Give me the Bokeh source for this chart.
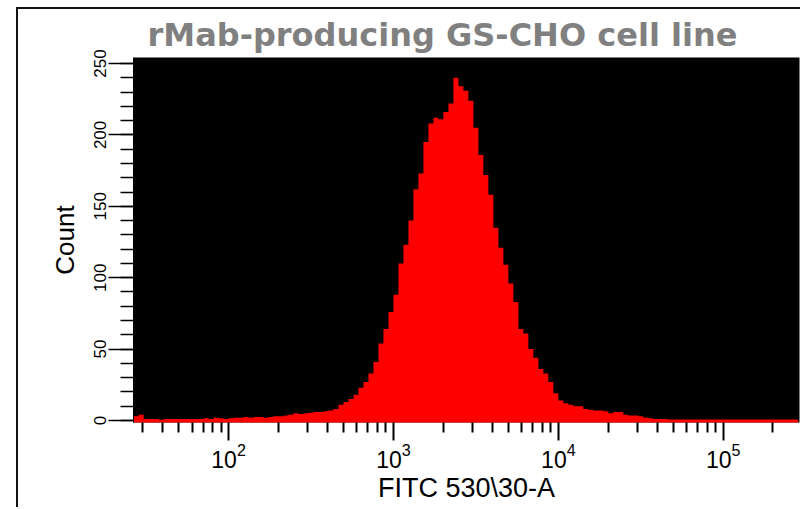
import numpy as np
from bokeh.plotting import figure
from bokeh.models import FixedTicker, Range1d
from bokeh.embed import file_html
from bokeh.resources import INLINE

# ---- data ----
title_text = "rMab-producing GS-CHO cell line"
x_title = "FITC 530\\30-A"
y_title = "Count"

# histogram bins: 1/33-decade log bins starting at 10**1.424
log_start = 1.424
bins_per_decade = 33
counts = [
    3, 4, 1, 1, 1, 0.5, 1, 1, 1, 1,
    1, 1, 1, 1, 1.5, 1, 2, 1.5, 1, 1.5,
    2, 2, 2.5, 2, 2.5, 2.5, 2, 2.5, 3, 3,
    3.5, 4, 5, 4.5, 5, 5.5, 6, 6, 6.5, 7,
    8, 11, 13, 15, 18, 23, 27, 33, 41, 54,
    64, 76, 88, 110, 123, 140, 162, 173, 195, 208,
    212, 211, 216, 222, 240, 234, 231, 224, 205, 186,
    172, 158, 135, 121, 109, 96, 83, 64, 61, 50,
    44, 36, 33, 27, 19, 14, 12, 11, 10, 10,
    8, 7.5, 7, 7, 6.5, 5, 6, 6, 4, 3.5,
    3.5, 3, 2, 1.5, 1, 1, 1, 0.7, 0.7, 0.7,
    0.7, 0.7, 0.7, 0.7, 0.7, 0.7, 0.7, 0.7, 0.7, 0.7,
    0.7, 0.7, 0.7, 0.7, 0.7, 0.7, 0.7, 0.7, 0.7, 0.7,
    0.7, 0.7, 0.7,
]
x_major = [100, 1000, 10000, 100000]
x_minor = [30, 40, 50, 60, 70, 80, 90,
           200, 300, 400, 500, 600, 700, 800, 900,
           2000, 3000, 4000, 5000, 6000, 7000, 8000, 9000,
           20000, 30000, 40000, 50000, 60000, 70000, 80000, 90000,
           200000]
y_major = [0, 50, 100, 150, 200, 250]
y_minor = list(range(0, 260, 10))

edges = [10 ** (log_start + i / bins_per_decade) for i in range(len(counts) + 1)]
heights = counts + [counts[-1]]
base = [-5] * len(heights)

p = figure(width=784, height=500, x_axis_type="log",
           x_range=Range1d(26.5, 290000), y_range=Range1d(-1.4, 254.2),
           output_backend="svg", toolbar_location=None,
           min_border_left=115, min_border_right=3,
           min_border_top=48, min_border_bottom=87)
p.margin = (7, 0, 0, 16)
p.styles = {"border-top": "2px solid #111", "border-left": "2px solid #111"}

p.background_fill_color = "black"
p.border_fill_color = "white"
p.outline_line_color = None
p.grid.visible = False

p.varea_step(x=edges, y1=base, y2=heights, step_mode="after", fill_color="#ff0000")

p.title.text = title_text
p.title.text_font = "DejaVu Sans"
p.title.text_font_size = "32px"
p.title.text_font_style = "bold"
p.title.text_color = "#808080"
p.title.align = "left"
p.title.offset = 14
p.title.standoff = 8

xa = p.xaxis[0]
xa.ticker = FixedTicker(ticks=x_major, minor_ticks=x_minor)
xa.axis_label = x_title
xa.axis_label_text_font = "Liberation Sans"
xa.axis_label_text_font_size = "27px"
xa.axis_label_text_font_style = "normal"
xa.axis_label_text_color = "black"
xa.axis_label_standoff = 2
xa.major_label_text_font = "Liberation Sans"
xa.major_label_text_font_size = "23px"
xa.major_label_text_color = "black"
xa.major_label_standoff = 2
xa.axis_line_color = None
xa.major_tick_in = 0
xa.minor_tick_in = 0
xa.major_tick_out = 18
xa.minor_tick_out = 10
xa.major_tick_line_width = 2
xa.minor_tick_line_width = 2
xa.major_tick_line_color = "black"
xa.minor_tick_line_color = "black"

ya = p.yaxis[0]
ya.ticker = FixedTicker(ticks=y_major, minor_ticks=y_minor)
ya.axis_label = y_title
ya.axis_label_text_font = "Liberation Sans"
ya.axis_label_text_font_size = "26px"
ya.axis_label_text_font_style = "normal"
ya.axis_label_text_color = "black"
ya.axis_label_standoff = 12
ya.major_label_text_font = "Liberation Sans"
ya.major_label_text_font_size = "17px"
ya.major_label_text_color = "black"
ya.major_label_orientation = "vertical"
ya.major_label_standoff = 2
ya.axis_line_color = "black"
ya.major_tick_in = 0
ya.minor_tick_in = 0
ya.major_tick_out = 25
ya.minor_tick_out = 13
ya.major_tick_line_width = 1.5
ya.minor_tick_line_width = 1.5
ya.major_tick_line_color = "black"
ya.minor_tick_line_color = "black"

open("out.html", "w").write(file_html(p, INLINE))
